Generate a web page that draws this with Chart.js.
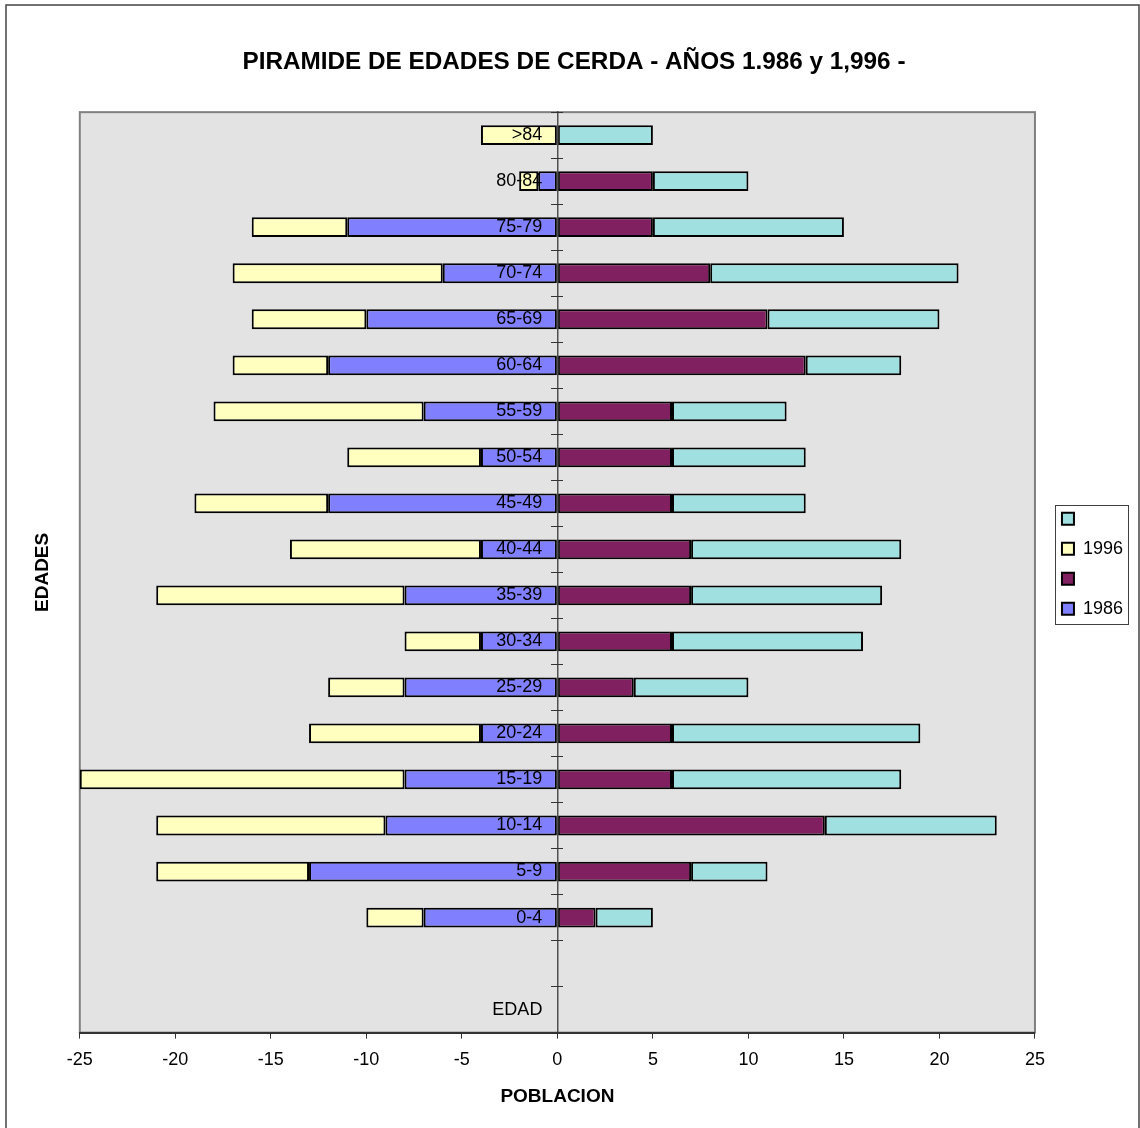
<!DOCTYPE html>
<html>
<head>
<meta charset="utf-8">
<title>Piramide de edades de Cerda</title>
<script src="https://cdn.jsdelivr.net/npm/chart.js@4.4.1/dist/chart.umd.min.js"></script>
<style>
  html, body { margin: 0; padding: 0; background: #fff; overflow: hidden; }
  canvas { display: block; }
</style>
</head>
<body>
<canvas id="piramide" width="1140" height="1128"></canvas>
<script>
// grupos de edad, de arriba abajo (las dos ultimas filas van vacias como en la hoja)
const edades = ['>84', '80-84', '75-79', '70-74', '65-69', '60-64', '55-59', '50-54', '45-49',
    '40-44', '35-39', '30-34', '25-29', '20-24', '15-19', '10-14', '5-9', '0-4', '', 'EDAD'];

// lado izquierdo (negativo)
const izq1986 = [0, -1, -11, -6, -10, -12, -7, -4, -12, -4, -8, -4, -8, -4, -8, -9, -13, -7, null, null];
const izq1996 = [-4, -1, -5, -11, -6, -5, -11, -7, -7, -10, -13, -4, -4, -9, -17, -12, -8, -3, null, null];
// lado derecho (positivo)
const der1986 = [0, 5, 5, 8, 11, 13, 6, 6, 6, 7, 7, 6, 4, 6, 6, 14, 7, 2, null, null];
const der1996 = [5, 5, 10, 13, 9, 5, 6, 7, 7, 11, 10, 10, 6, 13, 12, 9, 4, 3, null, null];

const ejeX = { min: -25, max: 25, paso: 5 };

const fuente = "'Liberation Sans', Arial, sans-serif";

const fondoPlugin = {
    id: 'fondo',
    beforeDraw(chart) {
        const { ctx, chartArea: a, width, height } = chart;
        ctx.save();
        ctx.fillStyle = '#ffffff';
        ctx.fillRect(0, 0, width, height);
        // marco exterior
        ctx.strokeStyle = '#444444';
        ctx.lineWidth = 1.5;
        ctx.strokeRect(6, 5, width - 7, height);
        // area de trazado
        ctx.fillStyle = '#e3e3e3';
        ctx.fillRect(a.left, a.top, a.right - a.left, a.bottom - a.top);
        ctx.strokeStyle = '#808080';
        ctx.lineWidth = 2;
        ctx.strokeRect(a.left, a.top, a.right - a.left, a.bottom - a.top);
        ctx.restore();
    },
    afterDraw(chart) {
        // recuadro de la leyenda
        const hb = chart.legend.legendHitBoxes;
        if (!hb || !hb.length) return;
        const last = hb[hb.length - 1];
        const ctx = chart.ctx;
        ctx.save();
        ctx.strokeStyle = '#404040';
        ctx.lineWidth = 1;
        const x1 = Math.round(hb[0].left - 7) + 0.5;
        const y1 = Math.round(hb[0].top - 5) + 0.5;
        const y2 = Math.round(last.top + last.height + 6) + 0.5;
        ctx.strokeRect(x1, y1, 73, y2 - y1);
        ctx.restore();
    }
};

const barra = {
    borderColor: '#000000',
    borderWidth: 2,
    borderSkipped: false,
    barPercentage: 0.43,
    categoryPercentage: 1,
    stack: 'pir'
};

const ctx = document.getElementById('piramide').getContext('2d');
const piramideChart = new Chart(ctx, {
    type: 'bar',
    data: {
        labels: edades,
        datasets: [
            Object.assign({ label: '1986', data: izq1986, backgroundColor: '#8080ff' }, barra),
            Object.assign({ label: '', data: der1986, backgroundColor: '#802060' }, barra),
            Object.assign({ label: '1996', data: izq1996, backgroundColor: '#ffffc0' }, barra),
            Object.assign({ label: '', data: der1996, backgroundColor: '#a0e0e0' }, barra)
        ]
    },
    options: {
        indexAxis: 'y',
        responsive: false,
        animation: false,
        layout: {
            padding: { left: 15, right: 7, top: 0, bottom: 16 }
        },
        plugins: {
            title: {
                display: true,
                text: 'PIRAMIDE DE EDADES DE CERDA - AÑOS 1.986 y 1,996 -',
                color: '#000',
                font: { family: fuente, size: 24.3, weight: 'bold' },
                padding: { top: 48, bottom: 35 }
            },
            legend: {
                position: 'right',
                reverse: true,
                // titulo vacio, solo baja un poco los elementos
                title: { display: true, text: '', padding: 0, font: { size: 13 } },
                labels: {
                    color: '#000',
                    font: { family: fuente, size: 18 },
                    boxWidth: 12,
                    boxHeight: 12,
                    padding: 12
                }
            },
            tooltip: { enabled: false }
        },
        scales: {
            x: {
                type: 'linear',
                position: 'bottom',
                min: ejeX.min,
                max: ejeX.max,
                stacked: true,
                ticks: {
                    stepSize: ejeX.paso,
                    color: '#000',
                    font: { family: fuente, size: 18 },
                    padding: 11,
                    maxRotation: 0
                },
                grid: { drawOnChartArea: false, tickLength: 6, color: '#333' },
                border: { color: '#333', width: 2 },
                title: {
                    display: true,
                    text: 'POBLACION',
                    color: '#000',
                    font: { family: fuente, size: 19, weight: 'bold' },
                    padding: { top: 3, bottom: 4 }
                }
            },
            y: {
                type: 'category',
                axis: 'y',
                position: { x: 0 },
                stacked: true,
                offset: true,
                ticks: {
                    color: '#000',
                    font: { family: fuente, size: 18 },
                    autoSkip: false,
                    z: 1,
                    // las etiquetas quedan pegadas al eje; unos espacios las separan
                    callback: function (val) { return this.getLabelForValue(val) + '   '; }
                },
                grid: { offset: true, drawOnChartArea: false, tickLength: 6, color: '#333', z: 1 },
                border: { color: '#505050', width: 1.5, z: 1 }
            },
            // marcas del otro lado del eje, para que crucen
            y3: {
                type: 'category',
                axis: 'y',
                position: { x: 0 },
                offset: true,
                ticks: { display: false },
                grid: { offset: true, drawOnChartArea: false, tickLength: -6, color: '#333', z: 1 },
                border: { display: false }
            },
            yt: {
                type: 'category',
                axis: 'y',
                position: 'left',
                ticks: { display: false },
                grid: { display: false, drawTicks: false },
                border: { display: false },
                title: {
                    display: true,
                    text: 'EDADES',
                    color: '#000',
                    font: { family: fuente, size: 19, weight: 'bold' },
                    padding: { top: 16, bottom: 26 }
                }
            },
            yr: {
                type: 'category',
                axis: 'y',
                position: 'right',
                ticks: { display: false },
                grid: { display: false, drawTicks: false },
                border: { display: false },
                afterFit: (s) => { s.width = 15; }
            }
        }
    },
    plugins: [fondoPlugin]
});
</script>
</body>
</html>
